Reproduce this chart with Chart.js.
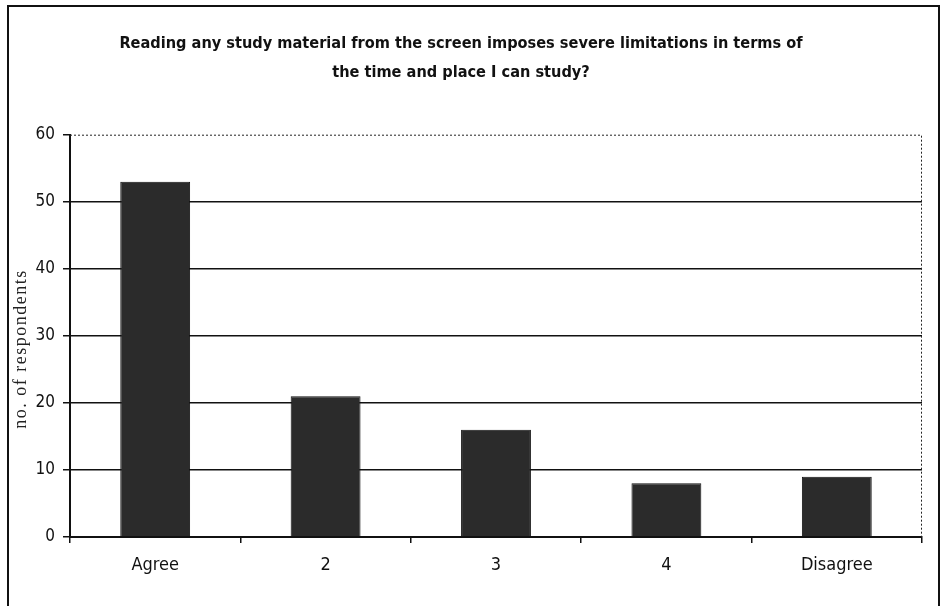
<!DOCTYPE html>
<html>
<head>
<meta charset="utf-8">
<script src="https://cdn.jsdelivr.net/npm/chart.js@4/dist/chart.umd.min.js"></script>
<style>
  html, body { margin: 0; padding: 0; background: #fff; }
  #wrap { position: relative; width: 946px; height: 606px; overflow: hidden; }
  #frame { position: absolute; left: 7px; top: 5px; width: 929px; height: 640px; border: 2px solid #111; }
  canvas { position: absolute; left: 0; top: 0; }
</style>
</head>
<body>
<div id="wrap">
  <div id="frame"></div>
  <canvas id="chart" width="946" height="606"></canvas>
</div>
<script>
const categories = ['Agree', '2', '3', '4', 'Disagree'];
const respondents = [53, 21, 16, 8, 9];
const titleLines = ['Reading any study material from the screen imposes severe limitations in terms of', 'the time and place I can study?'];
const yTicks = [0, 10, 20, 30, 40, 50, 60];
const yAxisTitle = 'no. of respondents';

const narrow = '"DejaVu Sans Condensed", "Liberation Sans Narrow", "Arial Narrow", Arial, sans-serif';

// dotted top + right edge of the plot area, and the y axis title
const extras = {
    id: 'extras',
    afterDraw(chart) {
        const a = chart.chartArea, ctx = chart.ctx;
        ctx.save();
        ctx.strokeStyle = '#222';
        ctx.lineWidth = 1;
        ctx.setLineDash([2, 2]);
        ctx.beginPath();
        ctx.moveTo(a.left, a.top + 0.5);
        ctx.lineTo(a.right - 0.5, a.top + 0.5);
        ctx.lineTo(a.right - 0.5, a.bottom);
        ctx.stroke();
        ctx.restore();

        ctx.save();
        ctx.translate(21, 349);
        ctx.rotate(-Math.PI / 2);
        ctx.font = '18px "Liberation Serif", "Times New Roman", serif';
        ctx.letterSpacing = '1.5px';
        ctx.fillStyle = '#222';
        ctx.textAlign = 'center';
        ctx.textBaseline = 'middle';
        ctx.fillText(yAxisTitle, 0, 0);
        ctx.restore();
    }
};

new Chart(document.getElementById('chart').getContext('2d'), {
    type: 'bar',
    data: {
        labels: categories,
        datasets: [{
            data: respondents,
            backgroundColor: '#2b2b2b',
            borderColor: '#111',
            borderWidth: 1,
            barPercentage: 0.82,
            categoryPercentage: 0.5
        }]
    },
    options: {
        responsive: false,
        animation: false,
        layout: { padding: { left: 0, right: 24, top: 0, bottom: 0 } },
        plugins: {
            legend: { display: false },
            tooltip: { enabled: false },
            title: {
                display: true,
                text: titleLines,
                color: '#111',
                font: { family: narrow, size: 16.2, weight: 'bold', lineHeight: 1.75 },
                padding: { top: 30, bottom: 48 }
            }
        },
        scales: {
            x: {
                afterFit: s => { s.height = 69; },
                grid: { offset: true, drawOnChartArea: false, drawTicks: true, tickLength: 6, color: '#111', lineWidth: 1.5 },
                border: { display: true, color: '#111', width: 2 },
                ticks: { color: '#111', padding: 12, font: { family: narrow, size: 18 } }
            },
            y: {
                min: 0,
                max: 60,
                afterFit: s => { s.width = 70; },
                afterBuildTicks: s => { s.ticks = yTicks.map(v => ({ value: v })); },
                grid: {
                    color: ctx => ctx.tick && ctx.tick.value === 60 ? 'rgba(0,0,0,0)' : '#111',
                    lineWidth: 1.5,
                    drawTicks: true,
                    tickLength: 7,
                    tickColor: '#111'
                },
                border: { display: true, color: '#111', width: 2 },
                ticks: { color: '#111', padding: 8, font: { family: narrow, size: 17 } }
            }
        }
    },
    plugins: [extras]
});
</script>
</body>
</html>
